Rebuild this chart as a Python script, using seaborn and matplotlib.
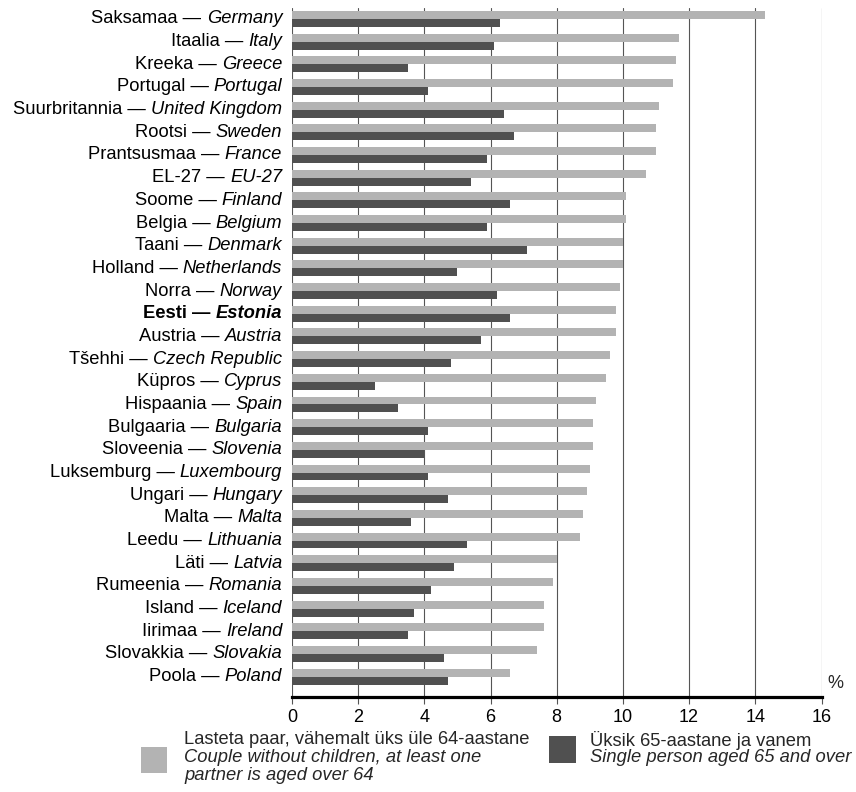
import matplotlib
matplotlib.use("Agg")
import matplotlib.pyplot as plt
import seaborn as sns
import pandas as pd
from matplotlib.offsetbox import TextArea, HPacker, AnnotationBbox
from matplotlib.patches import Rectangle

countries_et = ["Saksamaa", "Itaalia", "Kreeka", "Portugal", "Suurbritannia", "Rootsi",
                "Prantsusmaa", "EL-27", "Soome", "Belgia", "Taani", "Holland", "Norra",
                "Eesti", "Austria", "Tšehhi", "Küpros", "Hispaania", "Bulgaaria",
                "Sloveenia", "Luksemburg", "Ungari", "Malta", "Leedu", "Läti",
                "Rumeenia", "Island", "Iirimaa", "Slovakkia", "Poola"]
countries_en = ["Germany", "Italy", "Greece", "Portugal", "United Kingdom", "Sweden",
                "France", "EU-27", "Finland", "Belgium", "Denmark", "Netherlands", "Norway",
                "Estonia", "Austria", "Czech Republic", "Cyprus", "Spain", "Bulgaria",
                "Slovenia", "Luxembourg", "Hungary", "Malta", "Lithuania", "Latvia",
                "Romania", "Iceland", "Ireland", "Slovakia", "Poland"]
couple = [14.3, 11.7, 11.6, 11.5, 11.1, 11.0, 11.0, 10.7, 10.1, 10.1, 10.0, 10.0, 9.9,
          9.8, 9.8, 9.6, 9.5, 9.2, 9.1, 9.1, 9.0, 8.9, 8.8, 8.7, 8.0, 7.9, 7.6, 7.6, 7.4, 6.6]
single = [6.3, 6.1, 3.5, 4.1, 6.4, 6.7, 5.9, 5.4, 6.6, 5.9, 7.1, 5.0, 6.2,
          6.6, 5.7, 4.8, 2.5, 3.2, 4.1, 4.0, 4.1, 4.7, 3.6, 5.3, 4.9, 4.2, 3.7, 3.5, 4.6, 4.7]
series_names = ["couple", "single"]
xticks = [0, 2, 4, 6, 8, 10, 12, 14, 16]
highlight = "Eesti"

legend_couple = ["Lasteta paar, vähemalt üks üle 64-aastane",
                 "Couple without children, at least one",
                 "partner is aged over 64"]
legend_single = ["Üksik 65-aastane ja vanem", "Single person aged 65 and over"]

LIGHT = "#b3b3b3"
DARK = "#505050"
GRID = "#555555"

sns.set_style("white")
plt.rcParams["font.family"] = ["Liberation Sans", "DejaVu Sans"]

df = pd.DataFrame({
    "country": countries_et * 2,
    "value": couple + single,
    "series": [series_names[0]] * len(couple) + [series_names[1]] * len(single),
})

fig = plt.figure(figsize=(8.56, 7.92), dpi=100)
ax = fig.add_axes([0.3411, 0.1199, 0.6186, 0.87])

sns.barplot(data=df, y="country", x="value", hue="series", hue_order=series_names,
            order=countries_et, palette=[LIGHT, DARK], orient="h", width=0.70,
            saturation=1, linewidth=0, legend=False, ax=ax, zorder=2)

ax.set_xlim(0, 16)
ax.set_ylim(len(countries_et) - 1 + 0.9, -0.48)
ax.set_xticks(xticks)
ax.set_xticklabels([str(t) for t in xticks])
ax.xaxis.grid(True, color=GRID, linewidth=0.8, zorder=0)
ax.yaxis.grid(False)
ax.set_axisbelow(True)
ax.set_xlabel("")
ax.set_ylabel("")
ax.tick_params(axis="y", left=False, labelleft=False)
ax.tick_params(axis="x", bottom=True, direction="out", length=5, width=0.8,
               color=GRID, labelsize=13, pad=3.5, labelcolor="black")
for s in ["top", "right", "left"]:
    ax.spines[s].set_visible(False)
ax.spines["bottom"].set_linewidth(2.3)
ax.spines["bottom"].set_color("black")
ax.spines["bottom"].set_zorder(5)

FS = 13.2
for i, (et, en) in enumerate(zip(countries_et, countries_en)):
    w = "bold" if et == highlight else "normal"
    t1 = TextArea(et + " —", textprops=dict(fontsize=FS, fontweight=w, color="black"))
    t2 = TextArea(en, textprops=dict(fontsize=FS, fontweight=w, fontstyle="italic", color="black"))
    box = HPacker(children=[t1, t2], align="baseline", pad=0, sep=3.7)
    ab = AnnotationBbox(box, (0, i), xycoords=ax.get_yaxis_transform(),
                        xybox=(-7, 0), boxcoords="offset points",
                        box_alignment=(1, 0.5), frameon=False, pad=0)
    ax.add_artist(ab)

ax.text(1.0255, 0.02, "%", transform=ax.transAxes, ha="center", va="center", fontsize=13)

# legend
W, H = 856, 792
fig.add_artist(Rectangle((141 / W, 1 - 773 / H), 26 / W, 26 / H, transform=fig.transFigure,
                         facecolor=LIGHT, edgecolor="none"))
fig.add_artist(Rectangle((549 / W, 1 - 763 / H), 27 / W, 27 / H, transform=fig.transFigure,
                         facecolor=DARK, edgecolor="none"))
ys = [740, 757.5, 775]
for k, line in enumerate(legend_couple):
    fig.text(184 / W, 1 - ys[k] / H, line, ha="left", va="center", fontsize=13.2,
             fontstyle="normal" if k == 0 else "italic")
for k, line in enumerate(legend_single):
    fig.text(590 / W, 1 - ys[k] / H, line, ha="left", va="center", fontsize=13.2,
             fontstyle="normal" if k == 0 else "italic")

fig.savefig("out.png", dpi=100)
